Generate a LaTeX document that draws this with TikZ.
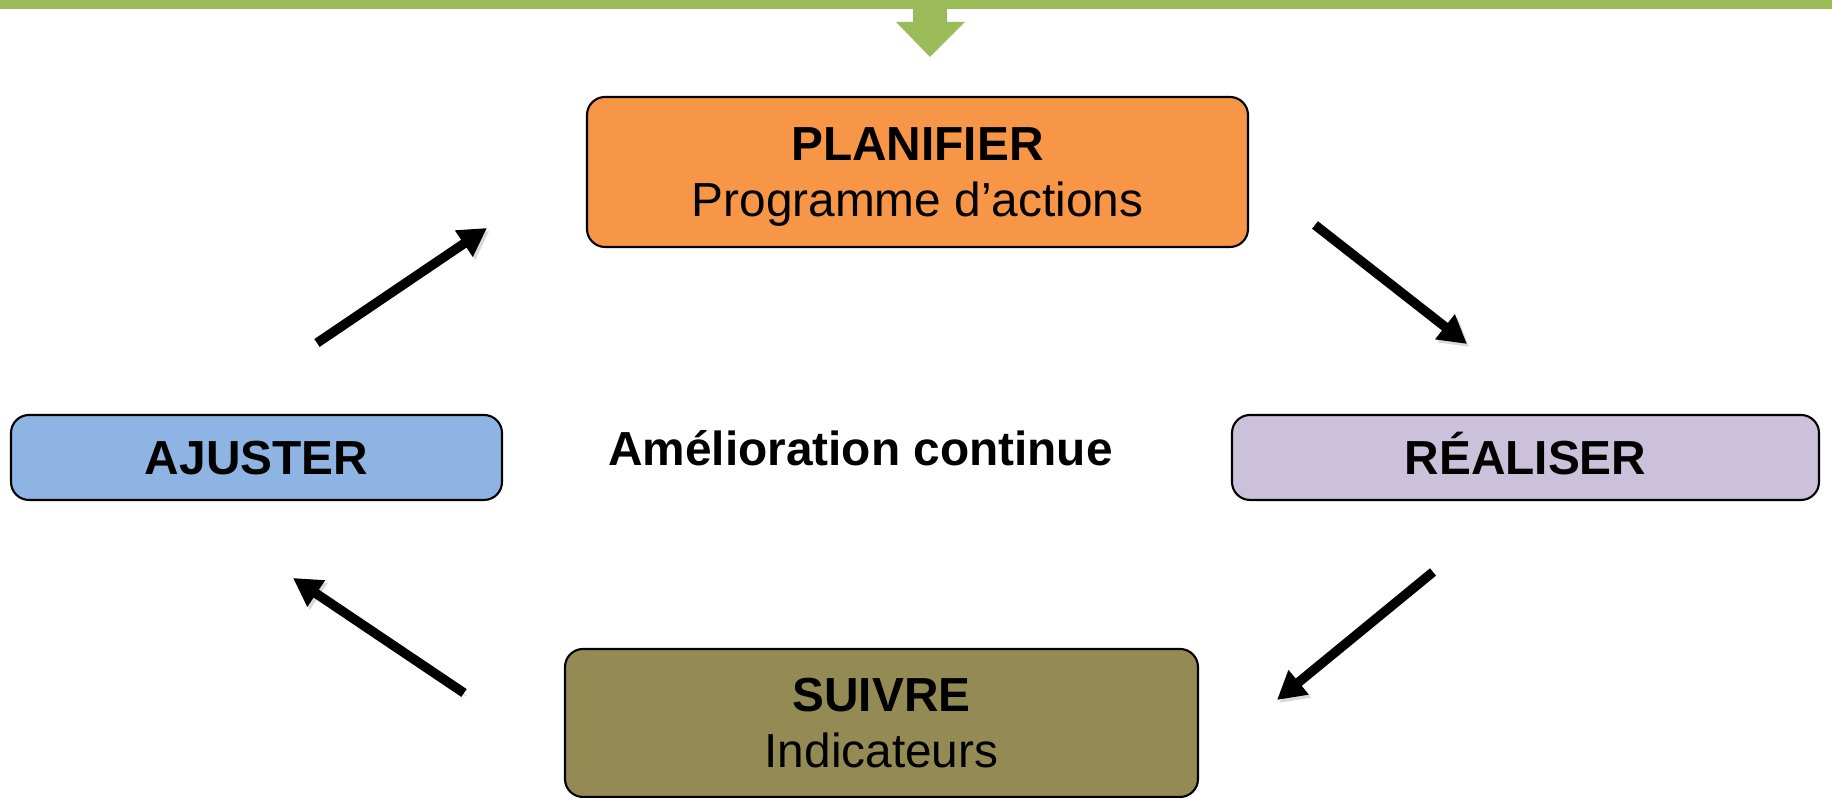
\documentclass[tikz,border=0pt]{standalone}
\usepackage{fontspec}
\setmainfont{Liberation Sans}
\usetikzlibrary{arrows.meta}

\definecolor{bargreen}{RGB}{155,187,89}
\definecolor{planorange}{RGB}{247,150,70}
\definecolor{ajublue}{RGB}{142,180,227}
\definecolor{realpurple}{RGB}{204,193,218}
\definecolor{suivolive}{RGB}{148,138,84}

\begin{document}
\begin{tikzpicture}[
    stagebox/.style={draw=black, line width=0.6pt, rounded corners=0.18cm,
        align=center, inner sep=0pt, text depth=0pt,
        font=\fontsize{13.6}{16}\selectfont},
    flow/.style={line width=2.7pt, -{Triangle[length=0.28cm, width=0.30cm]},
        preaction={draw=black!15, transform canvas={shift={(0.025,-0.03)}}}}
]
    \useasboundingbox (0,0) rectangle (18.32,7.98);

    % === Incoming green bar and arrow (top) ===
    \fill[bargreen] (0,7.89) rectangle (18.32,7.98);
    \fill[bargreen] (9.13,7.90) -- (9.13,7.76) -- (8.96,7.76) -- (9.30,7.41)
        -- (9.65,7.76) -- (9.47,7.76) -- (9.47,7.90) -- cycle;

    % === The four stages ===
    \node[stagebox, fill=planorange, minimum width=6.61cm, minimum height=1.50cm]
        (plan) at (9.175,6.26) {\textbf{PLANIFIER}\\Programme d’actions};
    \node[stagebox, fill=realpurple, minimum width=5.87cm, minimum height=0.85cm,
        text height=0.34cm]
        (real) at (15.255,3.405) {\textbf{RÉALISER}};
    \node[stagebox, fill=suivolive, minimum width=6.33cm, minimum height=1.48cm]
        (suiv) at (8.815,0.75) {\textbf{SUIVRE}\\Indicateurs};
    \node[stagebox, fill=ajublue, minimum width=4.91cm, minimum height=0.85cm,
        text height=0.34cm]
        (ajus) at (2.565,3.405) {\textbf{AJUSTER}};

    % Centre label
    \node[anchor=base, font=\fontsize{13.6}{16}\selectfont\bfseries]
        (amel) at (8.605,3.32) {Amélioration continue};

    % === Cycle arrows (floating between the boxes) ===
    \coordinate (ajus-out) at (3.17,4.55);
    \coordinate (plan-in)  at (4.87,5.70);
    \coordinate (plan-out) at (13.15,5.73);
    \coordinate (real-in)  at (14.67,4.54);
    \coordinate (real-out) at (14.33,2.26);
    \coordinate (suiv-in)  at (12.77,0.98);
    \coordinate (suiv-out) at (4.64,1.05);
    \coordinate (ajus-in)  at (2.93,2.20);

    \draw[flow] (ajus-out) -- (plan-in);
    \draw[flow] (plan-out) -- (real-in);
    \draw[flow] (real-out) -- (suiv-in);
    \draw[flow] (suiv-out) -- (ajus-in);

\end{tikzpicture}
\end{document}
